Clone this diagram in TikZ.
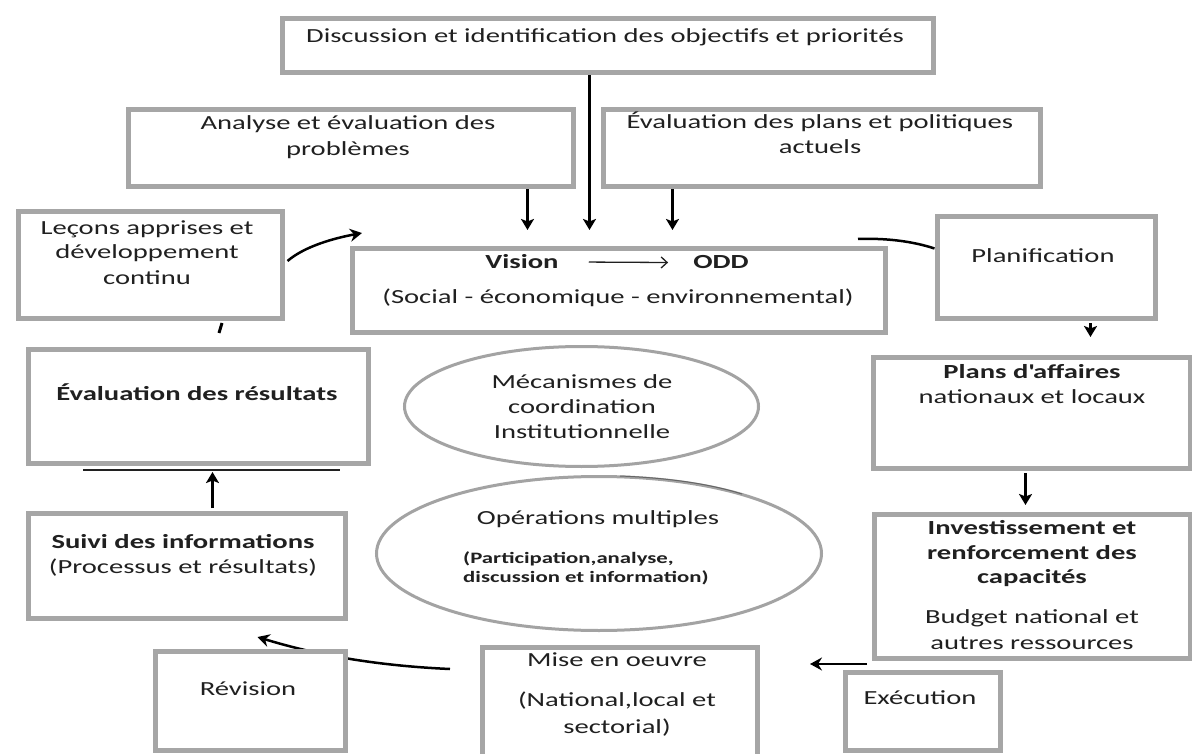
\documentclass[tikz,border=0pt]{standalone}
\usepackage{fontspec}
\setmainfont{Carlito}[FakeStretch=1.43]
\usetikzlibrary{arrows.meta,shapes.geometric,backgrounds}

\definecolor{framegray}{HTML}{A6A6A6}
\definecolor{ringgray}{HTML}{A3A3A3}
\definecolor{inkc}{HTML}{202020}

\newcommand\bodysize{\fontsize{20pt}{25pt}\selectfont}
\newcommand\notesize{\fontsize{15.9pt}{19pt}\selectfont}

\tikzset{
  frame/.style={rectangle, draw=framegray, line width=5pt, fill=white,
                anchor=north west, inner sep=0pt},
  ring/.style={ellipse, draw=ringgray, line width=3pt, fill=white, inner sep=0pt},
  txt/.style={anchor=base, inner sep=0pt, text=inkc, font=\bodysize},
  btxt/.style={txt, font=\bodysize\bfseries},
  stxt/.style={anchor=base west, inner sep=0pt, text=inkc, font=\notesize\bfseries},
  flow/.style={draw=black, line width=3pt,
               -{Stealth[length=11pt,width=13pt,inset=2.5pt]}},
  curveline/.style={draw=black, line width=2.5pt},
  curvearr/.style={curveline, -{Stealth[length=12pt,width=13pt,inset=4pt]}},
}

\begin{document}
\begin{tikzpicture}[x=1pt,y=-1pt]
\clip (0,0) rectangle (1192,754);

% ---------- boxes ----------
\node[frame, minimum width=651pt, minimum height=54pt]  (disc)  at (279.5,16.5)  {};
\node[frame, minimum width=445pt, minimum height=77pt]  (ana)   at (125.5,107.5) {};
\node[frame, minimum width=437pt, minimum height=77pt]  (evp)   at (600.5,107.5) {};
\node[frame, minimum width=264pt, minimum height=106pt] (lec)   at (15.5,209.5)  {};
\node[frame, minimum width=533pt, minimum height=83pt]  (vis)   at (349.5,246.5) {};
\node[frame, minimum width=218pt, minimum height=101pt] (pla)   at (934.5,214.5) {};
\node[frame, minimum width=317pt, minimum height=111pt] (pad)   at (870.5,354.5) {};
\node[frame, minimum width=340pt, minimum height=114pt] (evr)   at (25.5,346.5)  {};
\node[frame, minimum width=316pt, minimum height=144pt] (inv)   at (871.5,511.5) {};
\node[frame, minimum width=317pt, minimum height=105pt] (sui)   at (25.5,510.5)  {};
\node[frame, minimum width=190pt, minimum height=99pt]  (rev)   at (152.5,648.5) {};
\node[frame, minimum width=275pt, minimum height=130pt] (mise)  at (479.5,644.5) {};
\node[frame, minimum width=155pt, minimum height=78pt]  (exe)   at (842.5,669.5) {};

% ---------- ellipses ----------
\node[ring, minimum width=354pt, minimum height=120pt] (coord) at (581.5,406.5) {};
\node[ring, minimum width=445pt, minimum height=154pt] (ops)   at (599,553.5)   {};
\draw[line width=1pt, black!60] (620,476) .. controls (670,478) and (710,484) .. (742,494);

% ---------- texts ----------
\node[txt]  (discT)   at (605,43)   {Discussion et identification des objectifs et priorités};
\node[txt]  (anaT1)   at (348,130)  {Analyse et évaluation des};
\node[txt]  (anaT2)   at (348,156)  {problèmes};
\node[txt]  (evpT1)   at (820,129)  {Évaluation des plans et politiques};
\node[txt]  (evpT2)   at (820,154)  {actuels};
\node[txt]  (lecT1)   at (147,235)  {Leçons apprises et};
\node[txt]  (lecT2)   at (147,259)  {développement};
\node[txt]  (lecT3)   at (147,285)  {continu};
\node[btxt] (visT1)   at (522,269)  {Vision};
\node[btxt] (visT2)   at (721,269)  {ODD};
\node[txt]  (visT3)   at (618,303)  {(Social - économique - environnemental)};
\node[txt]  (plaT)    at (1043,263) {Planification};
\node[btxt] (padT1)   at (1032,378) {Plans d\textquotesingle affaires};
\node[txt]  (padT2)   at (1032,403) {nationaux et locaux};
\node[txt]  (coordT1) at (582,388)  {Mécanismes de};
\node[txt]  (coordT2) at (582,413)  {coordination};
\node[txt]  (coordT3) at (582,438)  {Institutionnelle};
\node[btxt] (evrT)    at (197,400)  {Évaluation des résultats};
\node[txt]  (opsT1)   at (598,524)  {Opérations multiples};
\node[stxt] (opsT2)   at (463,563)  {(Participation,analyse,};
\node[stxt] (opsT3)   at (463,582)  {discussion et information)};
\node[btxt] (invT1)   at (1032,534) {Investissement et};
\node[btxt] (invT2)   at (1032,559) {renforcement des};
\node[btxt] (invT3)   at (1032,583) {capacités};
\node[txt]  (invT4)   at (1032,623) {Budget national et};
\node[txt]  (invT5)   at (1032,649) {autres ressources};
\node[btxt] (suiT1)   at (183,548)  {Suivi des informations};
\node[txt]  (suiT2)   at (183,573)  {(Processus et résultats)};
\node[txt]  (revT)    at (248,695)  {Révision};
\node[txt]  (miseT1)  at (617,666)  {Mise en oeuvre};
\node[txt]  (miseT2)  at (617,706)  {(National,local et};
\node[txt]  (miseT3)  at (617,733)  {sectorial)};
\node[txt]  (exeT)    at (920,704)  {Exécution};

% Vision -> ODD
\draw[line width=1.3pt, inkc, -{Straight Barb[length=6pt,width=11pt]}]
  ([xshift=30pt]visT1.east) -- ([xshift=-25pt]visT2.west);

% ---------- connectors ----------
\draw[flow, line width=3.5pt] ([xshift=-18pt]disc.south) -- ([xshift=-29pt,yshift=16.5pt]vis.north);
\draw[flow] ([xshift=177pt]ana.south) -- ([xshift=-91pt,yshift=16.5pt]vis.north);
\draw[flow] ([xshift=-149pt]evp.south) -- ([xshift=54pt,yshift=16.5pt]vis.north);

\draw[curvearr] ([xshift=3pt,yshift=4pt]lec.east)
  .. controls (305,246) and (335,238) .. ([xshift=12.5pt,yshift=13.5pt]vis.north west);

\draw[curveline] ([xshift=-29.5pt,yshift=7.5pt]vis.north east)
  .. controls (885,238) and (912,241) .. ([yshift=19pt]pla.west);

\draw[flow] ([xshift=44.5pt,yshift=-2.5pt]pla.south) -- ([xshift=59pt,yshift=17.5pt]pad.north);
\draw[flow] ([xshift=-6pt,yshift=-2.5pt]pad.south) -- ([xshift=-6.5pt,yshift=6.5pt]inv.north);

\draw[curvearr] ([xshift=-4.5pt,yshift=-3.5pt]inv.south west) -- ([xshift=50.5pt,yshift=-19.5pt]mise.north east);

\begin{scope}[on background layer]
  \fill[white] (0,0) rectangle (1192,754);
  \draw[curvearr] ([xshift=-29.5pt,yshift=-24.5pt]mise.north west)
    .. controls (360,665) and (300,650) .. ([xshift=71pt,yshift=-16.5pt]sui.south);
\end{scope}

\draw[flow] ([xshift=26pt,yshift=2.5pt]sui.north) -- ([xshift=14.5pt,yshift=-6.5pt]evr.south);
\draw[line width=2pt, inkc] ([xshift=57.5pt,yshift=-4.5pt]evr.south west) -- ([xshift=-30.5pt,yshift=-4.5pt]evr.south east);

% short stroke under the lessons box
\draw[line width=3pt, black] ([xshift=69pt,yshift=-12.5pt]lec.south) -- ([xshift=72pt,yshift=-2.5pt]lec.south);
\end{tikzpicture}
\end{document}
